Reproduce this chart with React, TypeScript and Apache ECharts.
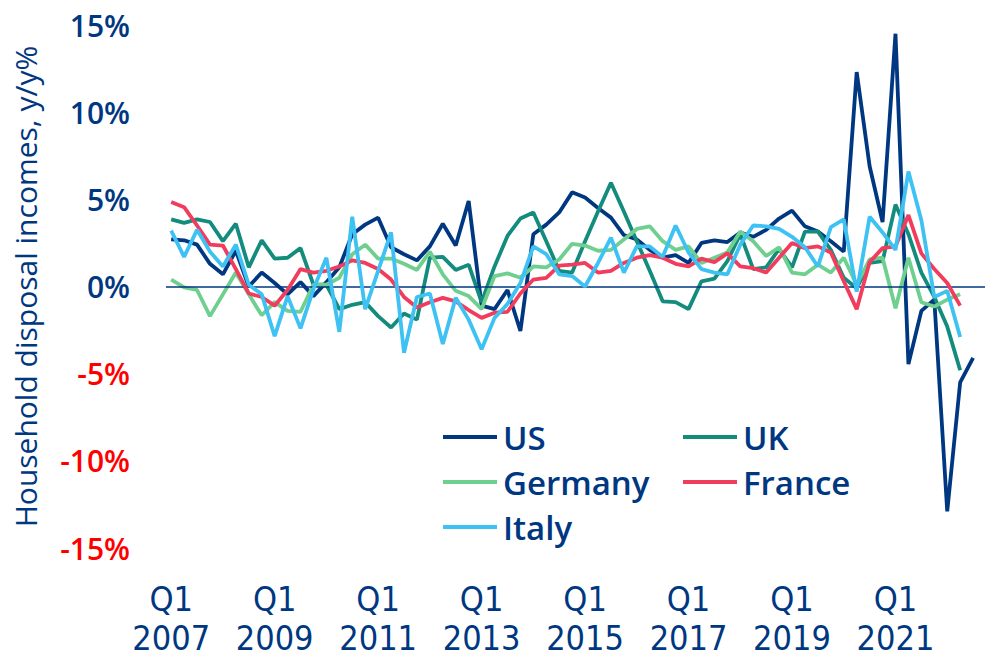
import React, { useEffect, useRef } from "react";
import * as echarts from "echarts";

const seriesNames = ["US", "UK", "Germany", "France", "Italy"];
const seriesColors = ["#003781", "#138c7d", "#6fcf8f", "#f23c5d", "#3ec1f3"];

// Quarterly y/y %, Q1 2007 .. Q3 2022
const us = [2.7, 2.65, 2.4, 1.3, 0.7, 2.05, 0.0, 0.8, 0.2, -0.45, 0.25, -0.55, 0.25, 1.1, 3.0, 3.55, 3.95, 2.25, 1.85, 1.5, 2.3, 3.6, 2.35, 4.9, -1.1, -1.3, -0.2, -2.55, 3.0, 3.55, 4.25, 5.4, 5.1, 4.5, 3.95, 2.95, 2.7, 2.1, 1.65, 1.8, 1.35, 2.5, 2.65, 2.55, 3.1, 2.85, 3.25, 3.9, 4.35, 3.45, 3.15, 2.6, 2.0, 12.3, 6.9, 3.7, 14.5, -4.45, -1.4, -0.75, -12.9, -5.5, -4.1];
const uk = [3.85, 3.65, 3.85, 3.7, 2.6, 3.6, 1.1, 2.65, 1.6, 1.65, 2.2, 0.1, 0.1, -1.3, -1.05, -0.9, -1.7, -2.35, -1.55, -1.9, 1.65, 1.7, 0.95, 1.25, -0.9, 1.15, 2.9, 3.9, 4.25, 2.6, 0.9, 0.8, 2.6, 4.3, 5.95, 4.3, 2.6, 0.9, -0.85, -0.9, -1.3, 0.3, 0.45, 1.45, 3.0, 1.0, 1.1, 2.15, 1.1, 3.15, 3.15, 2.1, 0.5, -0.1, 1.35, 1.45, 4.7, 3.0, 0.8, -0.6, -2.3, -4.8, null];
const germany = [0.4, -0.05, -0.2, -1.7, -0.45, 0.8, -0.45, -1.65, -0.9, -1.4, -1.45, 0.1, 0.1, 0.5, 1.85, 2.4, 1.6, 1.6, 1.3, 0.95, 2.0, 0.7, -0.25, -0.55, -1.3, 0.6, 0.75, 0.5, 1.15, 1.1, 1.55, 2.45, 2.35, 2.05, 2.1, 2.7, 3.3, 3.45, 2.6, 2.1, 2.3, 1.35, 1.65, 1.95, 3.15, 2.6, 1.75, 2.25, 0.8, 0.7, 1.25, 0.8, 1.65, 0.1, 1.55, 1.65, -1.25, 1.65, -0.9, -1.15, -0.75, -0.45, null];
const france = [4.85, 4.55, 3.5, 2.4, 2.35, 1.0, -0.4, -0.6, -1.1, -0.2, 1.0, 0.8, 0.9, 1.15, 1.5, 1.35, 1.0, 0.4, -0.6, -1.2, -0.9, -0.65, -0.85, -1.35, -1.8, -1.5, -1.45, -0.4, 0.4, 0.5, 1.2, 1.25, 1.35, 0.8, 0.9, 1.35, 1.65, 1.8, 1.65, 1.3, 1.15, 1.6, 1.4, 1.9, 1.15, 1.05, 0.8, 1.65, 2.5, 2.2, 2.3, 1.95, 0.3, -1.3, 1.4, 2.2, 2.3, 4.1, 1.9, 1.0, 0.2, -1.1, null];
const italy = [3.2, 1.7, 3.25, 2.0, 1.15, 2.4, 0.1, -0.45, -2.85, -0.55, -2.4, -0.15, 1.65, -2.6, 4.0, -1.3, 0.9, 3.1, -3.8, -0.6, -0.4, -3.3, -0.65, -1.9, -3.6, -1.8, -1.0, 0.2, 2.3, 1.85, 0.7, 0.6, 0.0, 1.35, 2.8, 0.8, 2.3, 2.3, 1.7, 3.5, 1.95, 1.0, 0.8, 0.7, 2.4, 3.5, 3.45, 3.3, 2.85, 2.25, 1.15, 3.4, 3.85, -0.3, 4.0, 3.1, 2.1, 6.6, 3.8, -0.6, -0.25, -2.9, null];

const tickPositions = [0, 8, 16, 24, 32, 40, 48, 56];
const tickLabels = ["Q1\n2007", "Q1\n2009", "Q1\n2011", "Q1\n2013", "Q1\n2015", "Q1\n2017", "Q1\n2019", "Q1\n2021"];

const legendSpots = [
  { left: 443, top: 417 },
  { left: 683, top: 417 },
  { left: 443, top: 462 },
  { left: 683, top: 462 },
  { left: 443, top: 507 },
];

const NAVY = "#003781";

export default function App() {
  const ref = useRef<HTMLDivElement>(null);
  useEffect(() => {
    document.body.style.margin = "0";
    if (!ref.current) return;
    const chart = echarts.init(ref.current, null, { renderer: "svg" });
    const allData = [us, uk, germany, france, italy];
    const series = allData.map((arr, k) => ({
      name: seriesNames[k],
      type: "line",
      data: arr.map((v, i) => [i, v]),
      symbol: "none",
      connectNulls: false,
      lineStyle: { width: 3.8, color: seriesColors[k] },
      itemStyle: { color: seriesColors[k] },
      z: 2 + k,
      markLine:
        k === 0
          ? {
              silent: true,
              symbol: "none",
              label: { show: false },
              lineStyle: { color: NAVY, width: 1.5, type: "solid" },
              data: [{ yAxis: 0 }],
            }
          : undefined,
    }));
    const legends = seriesNames.map((n, k) => ({
      data: [n],
      left: legendSpots[k].left,
      top: legendSpots[k].top,
      padding: 0,
      itemGap: 0,
      itemWidth: 54,
      itemHeight: 4,
      icon: "rect",
      selectedMode: false,
      textStyle: {
        color: NAVY,
        fontSize: 33,
        fontFamily: "Open Sans",
        fontWeight: 600,
        lineHeight: 40,
        padding: [0, 0, 0, 1],
      },
    }));
    chart.setOption({
      animation: false,
      backgroundColor: "#ffffff",
      grid: { left: 166, right: 0, top: 25, bottom: 112, containLabel: false },
      legend: legends,
      xAxis: {
        type: "value",
        min: -0.4,
        max: 62.92,
        axisLine: { show: false },
        axisTick: { show: false },
        splitLine: { show: false },
        axisLabel: {
          customValues: tickPositions,
          formatter: (v: number) => {
            const idx = tickPositions.indexOf(Math.round(v));
            return idx >= 0 ? tickLabels[idx] : "";
          },
          color: NAVY,
          fontSize: 34,
          lineHeight: 39,
          fontWeight: "normal",
          fontFamily: "'Liberation Sans Narrow', 'DejaVu Sans Condensed', sans-serif",
          margin: 31,
        },
      },
      yAxis: {
        type: "value",
        min: -15,
        max: 15,
        interval: 5,
        name: "Household disposal incomes, y/y%",
        nameLocation: "middle",
        nameGap: 126,
        nameTextStyle: { color: NAVY, fontSize: 30, fontFamily: "Open Sans" },
        axisLine: { show: false },
        axisTick: { show: false },
        splitLine: { show: false },
        axisLabel: {
          formatter: (v: number) => `${v}%`,
          color: (v: any) => (Number(v) < 0 ? "#ff0000" : NAVY),
          fontSize: 30,
          fontWeight: 600,
          fontFamily: "Open Sans",
          margin: 36,
        },
      },
      series,
    });
    return () => chart.dispose();
  }, []);
  return <div ref={ref} style={{ width: 985, height: 660 }} />;
}
